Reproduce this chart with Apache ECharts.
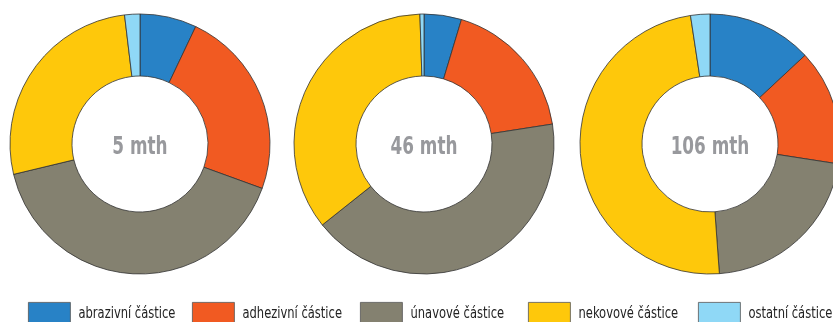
<!DOCTYPE html>
<html>
<head>
<meta charset="utf-8">
<script src="https://cdn.jsdelivr.net/npm/echarts@6/dist/echarts.min.js"></script>
<style>
  html, body { margin: 0; padding: 0; background: #fff; }
  #chart { width: 833px; height: 322px; }
</style>
</head>
<body>
<div id="chart"></div>
<script>
// Particle categories (legend order)
const categories = ['abrazivní částice', 'adhezivní částice', 'únavové částice', 'nekovové částice', 'ostatní částice'];
const colors = ['#2882c6', '#f15a22', '#848170', '#fec80b', '#8fd8f6'];

// Share of each particle type (%) at each sampling time
const periods = ['5 mth', '46 mth', '106 mth'];
const values5 = [7.05, 23.5, 40.7, 26.85, 1.9];
const values46 = [4.65, 17.9, 41.75, 35.2, 0.5];
const values106 = [13.05, 14.4, 21.4, 48.75, 2.4];
const seriesValues = [values5, values46, values106];

const centersX = [140, 424, 710];
const centerY = 144;
const font = '"DejaVu Sans Condensed", "Liberation Sans Narrow", sans-serif';

const chart = echarts.init(document.getElementById('chart'), null, { renderer: 'canvas' });

const series = seriesValues.map((vals, i) => ({
  type: 'pie',
  name: periods[i],
  center: [centersX[i], centerY],
  radius: [68, 130],
  startAngle: 90,
  clockwise: true,
  avoidLabelOverlap: false,
  silent: true,
  label: { show: false },
  labelLine: { show: false },
  itemStyle: { borderColor: '#333', borderWidth: 0.8 },
  data: categories.map((c, k) => ({ name: c, value: vals[k], itemStyle: { color: colors[k] } }))
}));

// Legend swatches; the captions are drawn as narrowed text beside them
const legendLefts = [28, 192, 360, 528, 698];
const legends = categories.map((c, k) => ({
  data: [c],
  left: legendLefts[k],
  top: 302,
  padding: 0,
  itemWidth: 42,
  itemHeight: 24,
  itemGap: 0,
  selectedMode: false,
  icon: 'rect',
  formatter: () => '',
  itemStyle: { borderColor: '#555', borderWidth: 0.8 }
}));

// Condensed lettering: horizontally squeezed text
const centerLabels = periods.map((p, i) => ({
  type: 'text',
  x: centersX[i],
  y: centerY + 3,
  scaleX: 0.75,
  silent: true,
  style: {
    text: p,
    font: 'bold 25px ' + font,
    fill: '#98999d',
    align: 'center',
    verticalAlign: 'middle'
  }
}));

const legendCaptions = categories.map((c, k) => ({
  type: 'text',
  x: legendLefts[k] + 50.5,
  y: 313.5,
  scaleX: 0.8,
  silent: true,
  style: {
    text: c,
    font: '16px ' + font,
    fill: '#222',
    align: 'left',
    verticalAlign: 'middle'
  }
}));

chart.setOption({
  animation: false,
  backgroundColor: '#ffffff',
  color: colors,
  legend: legends,
  series: series,
  graphic: centerLabels.concat(legendCaptions)
});
</script>
</body>
</html>
